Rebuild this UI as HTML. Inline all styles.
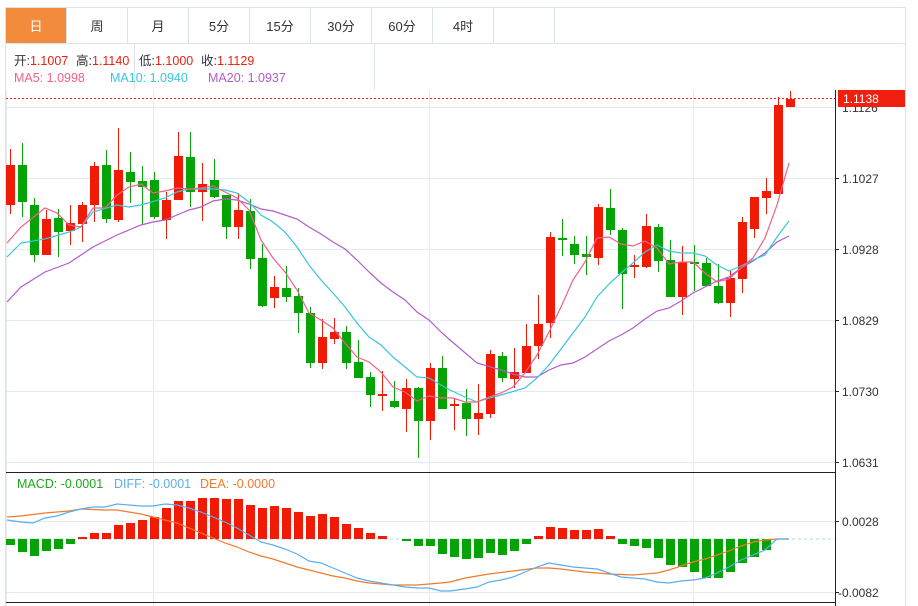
<!DOCTYPE html>
<html><head><meta charset="utf-8"><style>
body{margin:0;background:#fff;width:918px;height:606px;overflow:hidden;font-family:"Liberation Sans","Noto Sans CJK SC",sans-serif}
svg{position:absolute;left:0;top:0}
</style></head><body>
<svg id="s" width="918" height="606" viewBox="0 0 918 606" xmlns="http://www.w3.org/2000/svg" font-family="Liberation Sans, Noto Sans CJK SC, sans-serif">
<rect x="5.5" y="7.5" width="900" height="600" fill="none" stroke="#dde3ea"/>
<line x1="5" y1="43.5" x2="906" y2="43.5" stroke="#dde3ea"/>
<rect x="6" y="8" width="60" height="35" fill="#f28b3c"/>
<g stroke="#dde3ea">
<line x1="66.5" y1="8" x2="66.5" y2="43"/><line x1="127.5" y1="8" x2="127.5" y2="43"/><line x1="188.5" y1="8" x2="188.5" y2="43"/><line x1="249.5" y1="8" x2="249.5" y2="43"/><line x1="310.5" y1="8" x2="310.5" y2="43"/><line x1="371.5" y1="8" x2="371.5" y2="43"/><line x1="432.5" y1="8" x2="432.5" y2="43"/><line x1="493.5" y1="8" x2="493.5" y2="43"/><line x1="554.5" y1="8" x2="554.5" y2="43"/>
<line x1="134.5" y1="44" x2="134.5" y2="90"/><line x1="374.5" y1="44" x2="374.5" y2="90"/>
</g>
<g font-size="13" text-anchor="middle" fill="#333">
<text x="36" y="31" fill="#fff">日</text><text x="97" y="31">周</text><text x="158" y="31">月</text><text x="219" y="31">5分</text><text x="280" y="31">15分</text><text x="341" y="31">30分</text><text x="402" y="31">60分</text><text x="463" y="31">4时</text>
</g>
<g font-size="12.5">
<text x="14" y="65" fill="#333">开:<tspan fill="#f01f0f">1.1007</tspan></text>
<text x="76" y="65" fill="#333">高:<tspan fill="#f01f0f">1.1140</tspan></text>
<text x="139" y="65" fill="#333">低:<tspan fill="#f01f0f">1.1000</tspan></text>
<text x="201" y="65" fill="#333">收:<tspan fill="#f01f0f">1.1129</tspan></text>
<text x="14" y="82" fill="#f0608a">MA5: 1.0998</text>
<text x="110" y="82" fill="#3cc4dc">MA10: 1.0940</text>
<text x="208" y="82" fill="#b05cc8">MA20: 1.0937</text>
</g>
<g stroke="#e3eaf0">
<line x1="6" y1="107.5" x2="835" y2="107.5"/><line x1="6" y1="178.5" x2="835" y2="178.5"/><line x1="6" y1="249.5" x2="835" y2="249.5"/><line x1="6" y1="320.5" x2="835" y2="320.5"/><line x1="6" y1="391.5" x2="835" y2="391.5"/><line x1="6" y1="462.5" x2="835" y2="462.5"/>
<line x1="6" y1="521.5" x2="835" y2="521.5"/><line x1="6" y1="592.5" x2="835" y2="592.5"/>
<line x1="153.5" y1="90" x2="153.5" y2="606"/><line x1="429.5" y1="90" x2="429.5" y2="606"/><line x1="693.5" y1="90" x2="693.5" y2="606"/>
<line x1="6.5" y1="90" x2="6.5" y2="606"/>
</g>
<line x1="6" y1="472.5" x2="835" y2="472.5" stroke="#222"/>
<line x1="6" y1="602.5" x2="835" y2="602.5" stroke="#222"/>
<line x1="835.5" y1="90" x2="835.5" y2="606" stroke="#222"/>
<g font-size="12" fill="#333">
<text x="842" y="112">1.1126</text><text x="842" y="183">1.1027</text><text x="842" y="254">1.0928</text><text x="842" y="325">1.0829</text><text x="842" y="396">1.0730</text><text x="842" y="467">1.0631</text>
<text x="842" y="526">0.0028</text><text x="838" y="597">-0.0082</text>
</g>
<g stroke="#222"><line x1="835" y1="178.5" x2="839" y2="178.5"/><line x1="835" y1="249.5" x2="839" y2="249.5"/><line x1="835" y1="320.5" x2="839" y2="320.5"/><line x1="835" y1="391.5" x2="839" y2="391.5"/><line x1="835" y1="462.5" x2="839" y2="462.5"/><line x1="835" y1="521.5" x2="839" y2="521.5"/><line x1="835" y1="592.5" x2="839" y2="592.5"/></g>
<g font-size="12.5">
<text x="17" y="488" fill="#1aa81a">MACD: -0.0001</text>
<text x="114" y="488" fill="#5aaef0">DIFF: -0.0001</text>
<text x="200" y="488" fill="#f07a2a">DEA: -0.0000</text>
</g>
<line x1="6" y1="539" x2="835" y2="539" stroke="#a8d8ec" stroke-dasharray="3,3"/>
<g id="c"></g>
<line x1="6" y1="98.5" x2="835" y2="98.5" stroke="#f01f0f" stroke-dasharray="2,2"/>
<rect x="838" y="90" width="67" height="17" fill="#f01f0f"/>
<text x="843" y="103" font-size="12" fill="#fff">1.1138</text>
</svg>
<script>
var C=[[165,205,149,214,1],[165,202,143,217,0],[205,255,198,262,0],[219,255,210,255,1],[218,232,209,257,0],[223,231,205,245,1],[205,224,202,242,1],[166,205,162,222,1],[165,219,150,223,0],[170,220,128,222,1],[172,182,152,203,0],[181,187,166,224,0],[180,217,172,219,0],[200,220,192,239,1],[156,200,132,200,1],[157,192,132,207,0],[184,192,163,221,1],[180,197,159,198,0],[195,227,195,239,0],[210,227,193,239,1],[211,259,199,269,0],[258,306,244,307,0],[287,298,276,308,1],[288,297,266,302,0],[296,313,288,333,0],[313,363,307,368,0],[337,363,319,369,1],[332,339,318,344,1],[332,363,326,369,0],[362,378,340,378,0],[377,395,372,407,0],[394,395,371,411,1],[401,407,381,408,0],[388,409,379,432,1],[388,421,387,458,0],[368,421,363,440,1],[368,409,356,409,0],[404,405,398,430,1],[403,419,389,436,0],[413,419,384,435,1],[354,414,350,418,1],[356,378,352,382,0],[372,379,348,388,1],[346,373,324,373,1],[324,346,295,359,1],[237,323,232,338,1],[238,240,219,256,0],[244,255,236,264,0],[254,257,236,275,0],[207,258,204,265,1],[208,230,189,235,0],[230,274,228,309,0],[265,266,255,278,1],[226,267,214,268,1],[227,261,224,272,0],[260,297,240,297,0],[262,297,246,315,1],[262,264,245,291,0],[263,286,258,286,0],[286,303,264,304,0],[278,303,271,317,1],[222,279,217,293,1],[197,229,197,238,1],[191,198,178,214,1],[105,194,97,194,1],[99,107,91,107,1]];
var M=[545,552,556,551,549,544,537,533,533,525,523,520,517,508,501,501,498,498,499,499,505,508,506,508,512,516,514,517,524,528,533,536,539,541,546,546,554,557,559,558,553,555,551,544,536,527,528,530,530,529,536,544,546,548,558,565,567,572,578,578,572,563,557,550,539,539];
var ma5="7,243 21,227 45,208 57,213 69,225 81,227 93,208 105,208 117,195 129,187 141,184 153,193 165,191 177,188 189,189 201,188 213,186 225,192 237,198 249,210 261,240 273,258 285,272 297,290 309,313 321,320 333,328 345,343 357,357 369,362 381,372 393,387 405,392 417,401 429,396 441,398 453,398 465,402 477,402 489,397 501,393 513,387 525,373 537,355 549,332 561,307 573,280 585,262 597,238 609,237 621,244 633,246 645,241 657,248 669,264 681,262 693,262 705,273 717,282 729,279 741,268 753,258 765,238 777,205 789,163";
var ma10="7,257 21,243 45,239 69,232 81,227 93,212 117,205 129,207 141,205 165,198 177,192 189,189 213,189 225,190 237,193 249,202 261,215 273,222 285,232 297,247 309,265 321,280 333,293 345,307 357,323 369,337 381,345 393,357 405,367 417,377 429,378 441,385 450,390 465,397 477,402 489,398 501,395 525,388 537,378 549,365 561,349 573,333 585,317 597,297 609,284 621,273 633,263 645,252 657,245 669,251 681,253 693,253 705,256 717,265 729,271 741,266 753,260 765,255 777,237 789,221";
var ma20="7,302 21,287 45,272 69,263 93,247 117,235 129,230 141,225 153,222 165,220 177,215 189,210 201,207 213,201 225,199 237,200 249,204 261,209 273,211 285,215 297,219 309,227 321,234 333,242 345,249 357,260 369,272 381,283 393,292 405,300 417,312 429,320 441,332 450,340 477,363 501,370 513,374 525,377 537,377 549,370 561,365 573,363 585,357 597,349 609,341 621,335 633,328 645,319 657,311 669,308 681,301 693,293 705,287 717,281 729,277 741,268 753,261 765,253 777,242 789,236";
var diff="7,520 21,522 33,523 45,518 57,516 69,512 81,509 93,507 105,507 117,504 129,505 141,506 153,506 165,504 177,505 189,508 201,512 213,517 225,522 237,528 249,535 261,542 273,545 285,549 297,554 309,561 321,563 333,568 345,573 357,578 369,581 381,583 393,585 405,587 417,588 429,588 441,591 450,591 465,589 477,587 489,582 501,580 513,577 525,572 537,567 549,563 561,565 573,567 585,568 597,569 609,573 621,577 633,578 645,579 657,582 669,583 681,581 693,580 705,578 717,573 729,567 741,560 753,555 765,550 777,539 789,539";
var dea="7,517 21,516 45,513 69,511 81,509 105,510 117,510 129,512 141,514 153,517 165,520 177,523 189,528 201,533 213,538 225,543 237,547 249,552 261,556 273,559 285,563 297,567 309,570 321,573 333,576 345,578 357,581 369,583 381,584 393,585 405,585 417,585 429,584 441,583 450,582 465,578 489,574 513,571 537,568 549,568 561,569 585,572 609,574 633,575 645,574 657,573 669,570 681,566 693,562 705,559 717,555 729,551 741,546 753,542 765,540 777,539 789,539";
var h="";
C.forEach(function(c,i){var x=10+12*i,col=c[4]?"#f01a05":"#05a305";
h+='<line x1="'+(x+.5)+'" y1="'+c[2]+'" x2="'+(x+.5)+'" y2="'+c[3]+'" stroke="'+col+'" stroke-width="1"/>';
var hh=Math.max(c[1]-c[0],2);h+='<rect x="'+(x-4)+'" y="'+c[0]+'" width="9" height="'+hh+'" fill="'+col+'"/>';});
M.forEach(function(m,i){var x=10+12*i;var up=m<539;var y0=Math.min(m,539),hh=Math.abs(m-539);if(hh<1)return;
h+='<rect x="'+(x-4)+'" y="'+y0+'" width="9" height="'+hh+'" fill="'+(up?"#f01a05":"#05a305")+'"/>';});
function pl(p,c){return '<polyline points="'+p+'" fill="none" stroke="'+c+'" stroke-width="1.2"/>';}
h+=pl(ma20,"#b05cc8")+pl(ma10,"#3cc4dc")+pl(ma5,"#f0608a")+pl(dea,"#f07a2a")+pl(diff,"#5aaef0");
document.getElementById("c").innerHTML=h;
</script>
</body></html>
